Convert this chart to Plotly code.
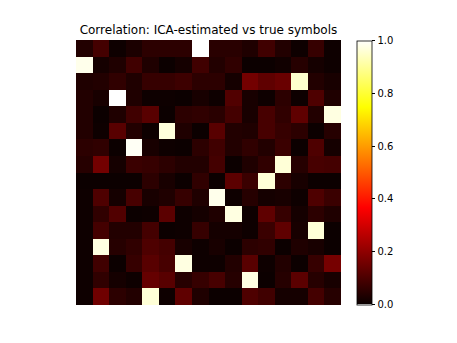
import plotly.graph_objects as go

title_text = "Correlation: ICA-estimated vs true symbols"

corr = [
    [0.036,0.086,0.006,0.026,0.051,0.051,0.051,1.0,0.046,0.046,0.031,0.081,0.036,0.006,0.066,0.006],
    [0.98,0.016,0.031,0.081,0.031,0.003,0.016,0.081,0.036,0.056,0.003,0.003,0.011,0.041,0.016,0.006],
    [0.031,0.036,0.056,0.031,0.066,0.066,0.076,0.051,0.051,0.016,0.156,0.126,0.141,0.95,0.036,0.021],
    [0.036,0.021,1.0,0.031,0.006,0.006,0.003,0.021,0.006,0.106,0.021,0.006,0.051,0.006,0.101,0.031],
    [0.036,0.003,0.031,0.081,0.116,0.003,0.051,0.056,0.046,0.086,0.021,0.091,0.056,0.126,0.036,0.97],
    [0.036,0.006,0.116,0.036,0.006,0.965,0.031,0.003,0.116,0.036,0.031,0.091,0.066,0.051,0.003,0.041],
    [0.051,0.056,0.003,0.99,0.021,0.006,0.003,0.051,0.081,0.036,0.056,0.036,0.071,0.003,0.101,0.016],
    [0.041,0.156,0.016,0.071,0.066,0.051,0.036,0.036,0.086,0.003,0.031,0.056,0.96,0.041,0.091,0.086],
    [0.003,0.003,0.003,0.003,0.051,0.021,0.003,0.056,0.003,0.121,0.071,0.96,0.051,0.021,0.003,0.003],
    [0.006,0.101,0.016,0.091,0.021,0.031,0.066,0.031,0.98,0.006,0.041,0.016,0.021,0.006,0.101,0.071],
    [0.006,0.056,0.106,0.003,0.006,0.121,0.006,0.016,0.031,0.97,0.006,0.126,0.066,0.016,0.051,0.031],
    [0.006,0.086,0.036,0.036,0.086,0.003,0.006,0.066,0.016,0.016,0.006,0.071,0.126,0.021,0.96,0.003],
    [0.006,0.97,0.041,0.056,0.101,0.086,0.021,0.006,0.021,0.003,0.051,0.056,0.003,0.031,0.021,0.003],
    [0.006,0.081,0.003,0.066,0.116,0.091,0.97,0.006,0.006,0.036,0.116,0.006,0.036,0.003,0.066,0.161],
    [0.006,0.056,0.016,0.006,0.136,0.116,0.041,0.066,0.091,0.041,0.97,0.003,0.041,0.121,0.041,0.021],
    [0.006,0.151,0.051,0.036,0.96,0.006,0.126,0.031,0.003,0.003,0.101,0.081,0.016,0.016,0.086,0.041],
]

cbar_ticks = [0.0, 0.2, 0.4, 0.6, 0.8, 1.0]

# matplotlib 'hot' colormap
hot = [
    [0.0, "rgb(10,0,0)"],
    [0.365079, "rgb(255,0,0)"],
    [0.746032, "rgb(255,255,0)"],
    [1.0, "rgb(255,255,255)"],
]

fig = go.Figure(go.Heatmap(
    z=corr,
    colorscale=hot,
    zmin=0, zmax=1,
    xgap=0, ygap=0,
    colorbar=dict(
        x=1.06, xanchor="left", xref="paper",
        y=0.5, yanchor="middle",
        len=264, lenmode="pixels",
        thickness=15, thicknessmode="pixels",
        outlinewidth=0.8, outlinecolor="black",
        tickvals=cbar_ticks, tickformat=".1f",
        ticks="outside", ticklen=3.5, tickwidth=0.8, tickcolor="black",
        tickfont=dict(family="DejaVu Sans", size=10, color="black"),
        xpad=0, ypad=0,
    ),
))

# the page body adds an 8px offset, so the figure is 8px smaller
fig.update_layout(
    width=449, height=335,
    margin=dict(l=68, r=116, t=32, b=38),
    paper_bgcolor="white", plot_bgcolor="white",
    title=dict(text=title_text, x=0.4465, xanchor="center",
               y=1 - 22/335, yanchor="middle", yref="container",
               font=dict(family="DejaVu Sans", size=12, color="black")),
    xaxis=dict(visible=False, range=[-0.5, 15.5], constrain="domain"),
    yaxis=dict(visible=False, range=[15.5, -0.5]),
)

fig.write_html("out.html")
